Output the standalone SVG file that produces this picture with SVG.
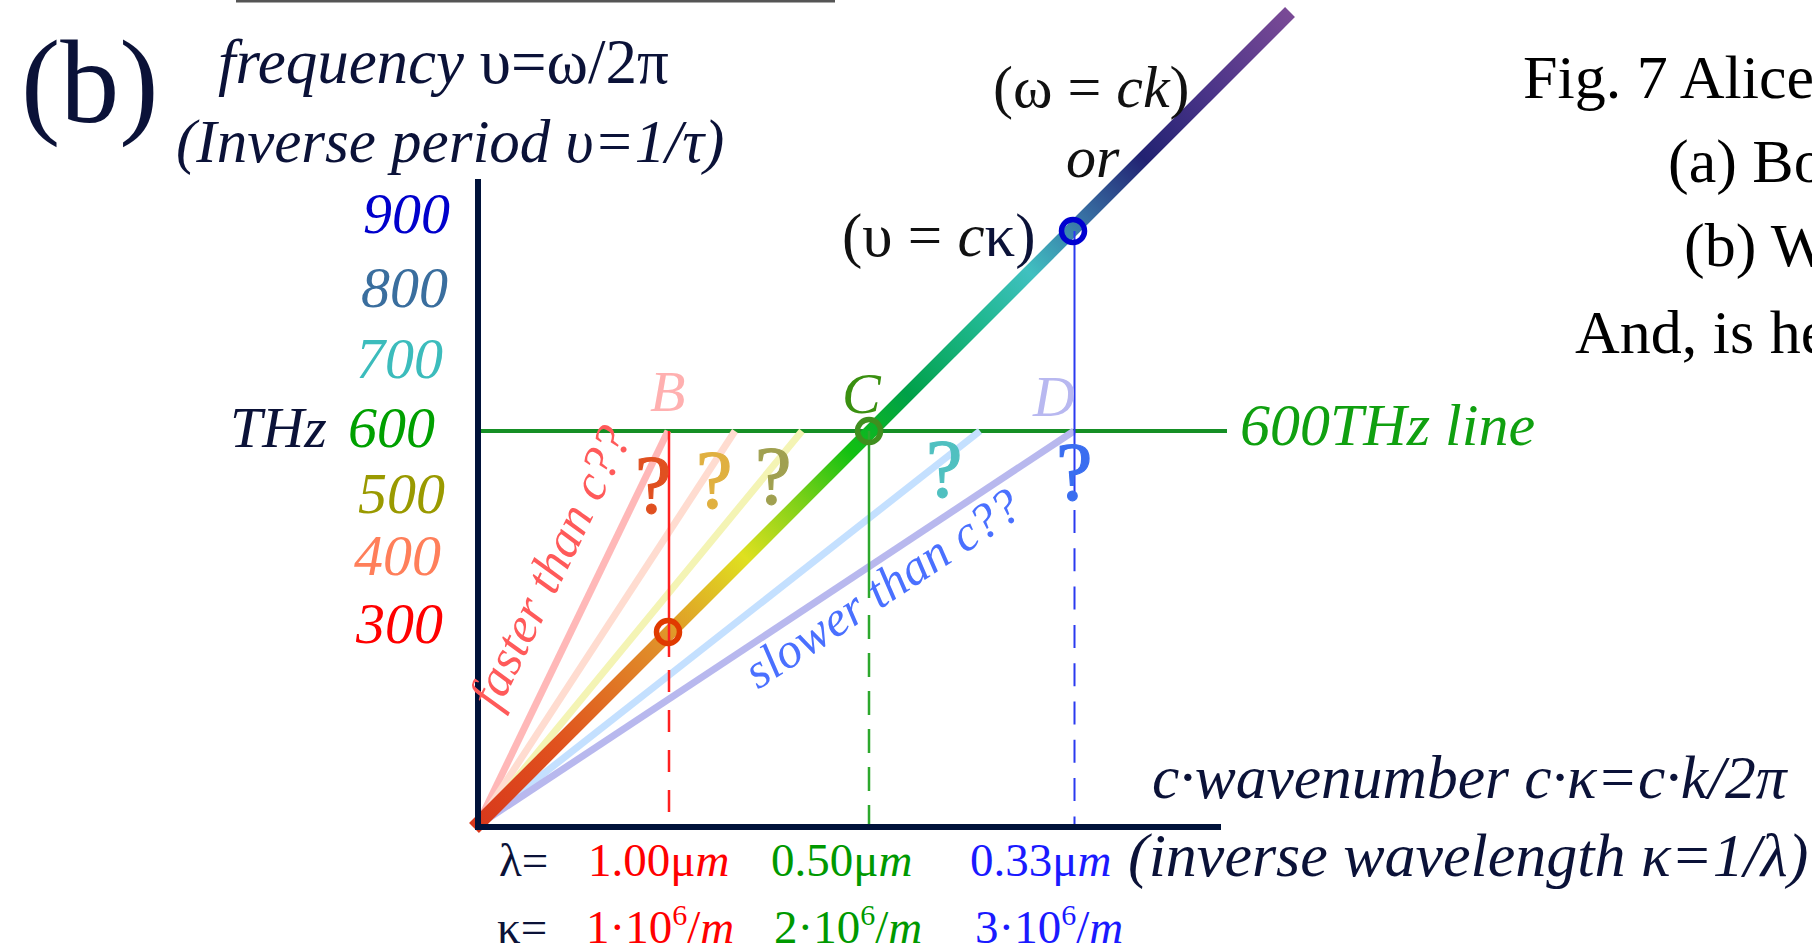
<svg xmlns="http://www.w3.org/2000/svg" width="1812" height="950" viewBox="0 0 1812 950">
<defs>
<style>
text{font-family:'Liberation Serif','Times New Roman',serif;}
.it{font-style:italic;}
.navy{fill:#0b1238;}
.tick{font-size:58px;font-style:italic;text-anchor:end;}
.q{font-size:82px;stroke-width:1.2;}
.thin{stroke-width:7;fill:none;}
.vl{fill:none;}
</style>
<linearGradient id="spec" gradientUnits="userSpaceOnUse" x1="476" y1="826" x2="1290" y2="12">
<stop offset="0" stop-color="#d8381c"/>
<stop offset="0.10" stop-color="#e0521e"/>
<stop offset="0.23" stop-color="#e0922a"/>
<stop offset="0.33" stop-color="#dfe020"/>
<stop offset="0.40" stop-color="#7ad018"/>
<stop offset="0.46" stop-color="#12c012"/>
<stop offset="0.53" stop-color="#00a048"/>
<stop offset="0.62" stop-color="#20b890"/>
<stop offset="0.68" stop-color="#40c0c0"/>
<stop offset="0.74" stop-color="#3a78a8"/>
<stop offset="0.82" stop-color="#222272"/>
<stop offset="0.90" stop-color="#4a3488"/>
<stop offset="1" stop-color="#7a4a96"/>
</linearGradient>
</defs>
<rect width="1812" height="950" fill="#ffffff"/>
<rect x="236" y="0" width="599" height="2.5" fill="#555555"/>

<g id="connectors">
<line x1="478" y1="431" x2="1227" y2="431" stroke="#158f25" stroke-width="4"/>
<line class="thin" x1="477" y1="826" x2="668" y2="431" stroke="#ffb8b8"/>
<line class="thin" x1="477" y1="826" x2="735" y2="431" stroke="#ffdcd0"/>
<line class="thin" x1="477" y1="826" x2="802" y2="431" stroke="#f4f4b4"/>
<line class="thin" x1="477" y1="826" x2="980" y2="431" stroke="#c4e0ff"/>
<line class="thin" x1="477" y1="826" x2="1074" y2="431" stroke="#b8b8ee"/>
<line id="light-line" x1="474" y1="828" x2="1290" y2="12" stroke="url(#spec)" stroke-width="14"/>
<line class="vl" x1="669" y1="431" x2="669" y2="657" stroke="#ff2020" stroke-width="2.5"/>
<line class="vl" x1="669" y1="670" x2="669" y2="826" stroke="#ff2020" stroke-width="2.5" stroke-dasharray="22 18"/>
<line class="vl" x1="869" y1="431" x2="869" y2="598" stroke="#2da82d" stroke-width="2.5"/>
<line class="vl" x1="869" y1="615" x2="869" y2="826" stroke="#2da82d" stroke-width="2.5" stroke-dasharray="24 14"/>
<line class="vl" x1="1074.5" y1="231" x2="1074.5" y2="498" stroke="#2a3af0" stroke-width="2"/>
<line class="vl" x1="1074.5" y1="510" x2="1074.5" y2="826" stroke="#2a3af0" stroke-width="2" stroke-dasharray="23 15.3"/>
</g>

<g id="axes">
<line x1="478" y1="179" x2="478" y2="830" stroke="#00123a" stroke-width="6"/>
<line x1="475" y1="827" x2="1221" y2="827" stroke="#00123a" stroke-width="6"/>
</g>

<g id="point-B">
<circle cx="668" cy="632" r="11.5" fill="none" stroke="#e03a00" stroke-width="5.5"/>
<text x="650" y="411" class="it" font-size="58" fill="#ffb0b0">B</text>
</g>
<g id="point-C">
<circle cx="869" cy="431" r="11.5" fill="none" stroke="#3f8f1f" stroke-width="5.5"/>
<text x="842" y="413" class="it" font-size="58" fill="#3a9010">C</text>
</g>
<g id="point-D">
<circle cx="1073" cy="231" r="11.5" fill="none" stroke="#0000d0" stroke-width="5.5"/>
<text x="1033" y="416" class="it" font-size="58" fill="#b8b8f0">D</text>
</g>

<g id="questions">
<text x="635" y="512" class="q" fill="#e05020" stroke="#e05020">?</text>
<text x="696" y="507" class="q" fill="#e0b040" stroke="#e0b040">?</text>
<text x="755" y="503" class="q" fill="#a0a050" stroke="#a0a050">?</text>
<text x="926" y="496" class="q" fill="#50c0c0" stroke="#50c0c0">?</text>
<text x="1056" y="499" class="q" fill="#3a6ef0" stroke="#3a6ef0">?</text>
</g>

<g id="speed-labels">
<text transform="translate(498,712) rotate(-64)" class="it" font-size="51" fill="#ff5a5a">faster than c??</text>
<text transform="translate(758,690) rotate(-33.4)" class="it" font-size="50" fill="#4a70ff">slower than c??</text>
</g>

<g id="title">
<text x="21" y="122" font-size="118" class="navy">(b)</text>
<text x="218" y="83" font-size="63" class="navy"><tspan class="it">frequency</tspan> υ=ω/2π</text>
<text x="176" y="162" font-size="61" class="navy it">(Inverse period υ=1/τ)</text>
</g>

<g id="y-ticks">
<text x="450" y="233" class="tick" fill="#0000cc">900</text>
<text x="448" y="307" class="tick" fill="#3a6e9e">800</text>
<text x="443" y="378" class="tick" fill="#3cbcbc">700</text>
<text x="435" y="447" class="tick" fill="#00a000">600</text>
<text x="445" y="513" class="tick" fill="#9a9a00">500</text>
<text x="441" y="575" class="tick" fill="#ff7f5a">400</text>
<text x="443" y="643" class="tick" fill="#ff0000">300</text>
<text x="230" y="447" class="it navy" font-size="58">THz</text>
</g>

<g id="line-labels">
<text x="993" y="107" font-size="60" fill="#111111">(ω = <tspan class="it">ck</tspan>)</text>
<text x="1066" y="177" font-size="60" fill="#111111" class="it">or</text>
<text x="842" y="256" font-size="61" fill="#111111">(υ = <tspan class="it">c</tspan><tspan fill="#0b1238">κ)</tspan></text>
<text x="1240" y="445" font-size="60" class="it" fill="#10a010">600THz line</text>
</g>

<g id="x-labels">
<text x="1152" y="798" font-size="61.5" class="it navy">c·wavenumber c·κ=c·k/2π</text>
<text x="1128" y="876" font-size="62" class="it navy">(inverse wavelength κ=1/λ)</text>
<text x="499" y="876" font-size="47" class="navy">λ=</text>
<text x="588" y="876" font-size="47" fill="#ff0000">1.00μ<tspan class="it">m</tspan></text>
<text x="771" y="876" font-size="47" fill="#009900">0.50μ<tspan class="it">m</tspan></text>
<text x="970" y="876" font-size="47" fill="#1a1aff">0.33μ<tspan class="it">m</tspan></text>
<text x="497" y="943" font-size="47" class="navy">κ=</text>
<text x="586" y="943" font-size="47" fill="#ff0000">1·10<tspan font-size="30" dy="-18">6</tspan><tspan dy="18">/</tspan><tspan class="it">m</tspan></text>
<text x="774" y="943" font-size="47" fill="#009900">2·10<tspan font-size="30" dy="-18">6</tspan><tspan dy="18">/</tspan><tspan class="it">m</tspan></text>
<text x="975" y="943" font-size="47" fill="#1a1aff">3·10<tspan font-size="30" dy="-18">6</tspan><tspan dy="18">/</tspan><tspan class="it">m</tspan></text>
</g>

<g id="caption">
<text x="1523" y="98" font-size="62" fill="#000000">Fig. 7 Alice</text>
<text x="1668" y="182" font-size="62" fill="#000000">(a) Bo</text>
<text x="1684" y="266" font-size="62" fill="#000000">(b) W</text>
<text x="1575" y="353" font-size="62" fill="#000000">And, is he</text>
</g>
</svg>
